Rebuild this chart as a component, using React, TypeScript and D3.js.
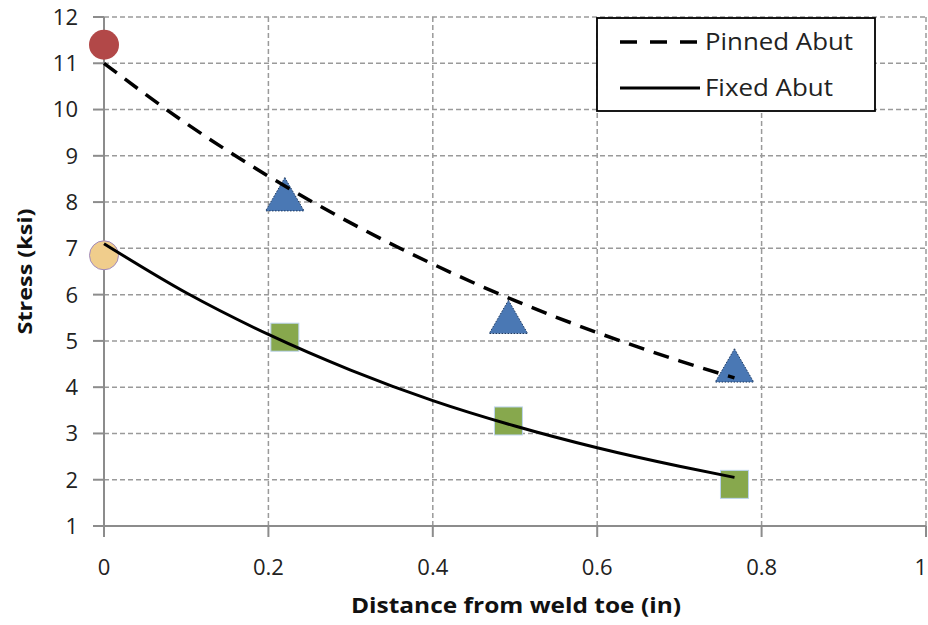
import React from "react";
import * as d3 from "d3";

// Measured stress points
const pinMeasX = [0.22, 0.492, 0.767];
const pinMeasY = [8.05, 5.4, 4.35];
const fixMeasX = [0.22, 0.492, 0.767];
const fixMeasY = [5.08, 3.27, 1.9];
const pinToeY = 11.4;
const fixToeY = 6.85;

// Trend curves
const trendX = [0, 0.1, 0.2, 0.3, 0.4, 0.5, 0.6, 0.7, 0.767];
const pinnedTrend = [11.0, 9.7, 8.56, 7.55, 6.66, 5.87, 5.18, 4.57, 4.2];
const fixedTrend = [7.1, 6.04, 5.14, 4.37, 3.71, 3.16, 2.69, 2.29, 2.05];

const xTicks = [0, 0.2, 0.4, 0.6, 0.8, 1];
const yTicks = [1, 2, 3, 4, 5, 6, 7, 8, 9, 10, 11, 12];

const W = 928;
const H = 625;
const FONT = "'Open Sans', 'Liberation Sans', sans-serif";
const DASH = "16,10";

export default function App() {
  const x = d3.scaleLinear().domain([0, 1]).range([104, 926]);
  const y = d3.scaleLinear().domain([1, 12]).range([526, 17]);

  const line = d3
    .line<number>()
    .x((_, i) => x(trendX[i]))
    .y((d) => y(d))
    .curve(d3.curveMonotoneX);

  const tri = d3.symbol().type(d3.symbolTriangle).size(640)();

  return (
    <svg
      width={W}
      height={H}
      style={{ position: "absolute", left: 0, top: 0, background: "#fff" }}
    >
      {/* grid */}
      {yTicks.slice(1).map((t) => (
        <line
          key={"gy" + t}
          x1={x(0)}
          x2={x(1)}
          y1={y(t)}
          y2={y(t)}
          stroke="#9a9a9a"
          strokeWidth={1.5}
          strokeDasharray="5,3"
        />
      ))}
      {xTicks.slice(1).map((t) => (
        <line
          key={"gx" + t}
          x1={x(t)}
          x2={x(t)}
          y1={y(1)}
          y2={y(12)}
          stroke="#9a9a9a"
          strokeWidth={1.5}
          strokeDasharray="5,3"
        />
      ))}

      {/* axes */}
      <line x1={x(0)} x2={x(0)} y1={y(1)} y2={y(12)} stroke="#8c8c8c" strokeWidth={2} />
      <line x1={x(0) - 11} x2={x(1)} y1={y(1)} y2={y(1)} stroke="#8c8c8c" strokeWidth={2} />
      {yTicks.map((t) => (
        <line key={"ty" + t} x1={x(0) - 11} x2={x(0)} y1={y(t)} y2={y(t)} stroke="#8c8c8c" strokeWidth={2} />
      ))}
      {xTicks.map((t) => (
        <line key={"tx" + t} x1={x(t)} x2={x(t)} y1={y(1)} y2={y(1) + 11} stroke="#8c8c8c" strokeWidth={2} />
      ))}

      {/* tick labels */}
      {yTicks.map((t) => (
        <text
          key={"ly" + t}
          x={78}
          y={y(t)}
          dy="0.36em"
          textAnchor="end"
          fontFamily={FONT}
          fontSize={22}
          fill="#222"
        >
          {t}
        </text>
      ))}
      {xTicks.map((t) => (
        <text
          key={"lx" + t}
          x={t === 1 ? 927 : x(t)}
          y={575}
          textAnchor={t === 1 ? "end" : "middle"}
          fontFamily={FONT}
          fontSize={22}
          fill="#222"
        >
          {t}
        </text>
      ))}

      {/* axis titles */}
      <text
        x={516}
        y={613}
        textAnchor="middle"
        fontFamily={FONT}
        fontSize={21}
        fontWeight="bold"
        fill="#111"
        textLength={330}
        lengthAdjust="spacingAndGlyphs"
      >
        Distance from weld toe (in)
      </text>
      <text
        transform={`translate(32, ${(y(1) + y(12)) / 2}) rotate(-90)`}
        textAnchor="middle"
        fontFamily={FONT}
        fontSize={20}
        fontWeight="bold"
        fill="#111"
        textLength={126}
        lengthAdjust="spacingAndGlyphs"
      >
        Stress (ksi)
      </text>

      {/* markers */}
      <circle cx={x(0)} cy={y(pinToeY)} r={15} fill="#b24848" />
      <circle cx={x(0)} cy={y(fixToeY)} r={14.5} fill="#f0cd8c" stroke="#a08abd" strokeWidth={1} />
      {pinMeasX.map((d, i) => (
        <path
          key={"tr" + i}
          d={tri || ""}
          transform={`translate(${x(d)}, ${y(pinMeasY[i])})`}
          fill="#4a78b4"
          stroke="#1f3a60"
          strokeWidth={1}
          strokeDasharray="1.5,1.5"
        />
      ))}
      {fixMeasX.map((d, i) => (
        <rect
          key={"sq" + i}
          x={x(d) - 14}
          y={y(fixMeasY[i]) - 14}
          width={28}
          height={28}
          fill="#87a84d"
          stroke="#bcd3ee"
          strokeWidth={1}
        />
      ))}

      {/* trend lines */}
      <path
        d={line(pinnedTrend) || ""}
        fill="none"
        stroke="#000"
        strokeWidth={3.5}
        strokeDasharray={DASH}
      />
      <path d={line(fixedTrend) || ""} fill="none" stroke="#000" strokeWidth={3} />

      {/* legend */}
      <rect x={597} y={18} width={278} height={93} fill="#fff" stroke="#000" strokeWidth={1.8} />
      <line x1={620} x2={700} y1={42} y2={42} stroke="#000" strokeWidth={3.5} strokeDasharray="17,13" />
      <text
        x={705}
        y={42}
        dy="0.36em"
        fontFamily={FONT}
        fontSize={23}
        fill="#222"
        textLength={148}
        lengthAdjust="spacingAndGlyphs"
      >
        Pinned Abut
      </text>
      <line x1={620} x2={700} y1={88} y2={88} stroke="#000" strokeWidth={3} />
      <text
        x={705}
        y={88}
        dy="0.36em"
        fontFamily={FONT}
        fontSize={23}
        fill="#222"
        textLength={128}
        lengthAdjust="spacingAndGlyphs"
      >
        Fixed Abut
      </text>
    </svg>
  );
}
